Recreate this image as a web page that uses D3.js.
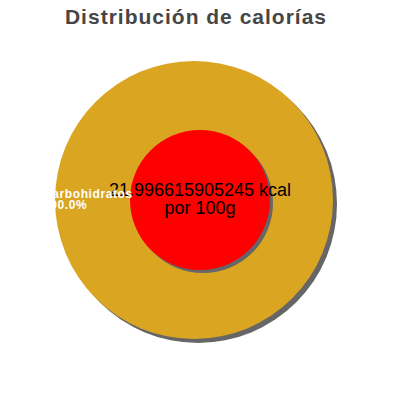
<!DOCTYPE html>
<html>
<head>
<meta charset="utf-8">
<script src="https://cdn.jsdelivr.net/npm/d3@7"></script>
<style>
  body { margin: 0; background: #fff; }
  svg { font-family: "Liberation Sans", Arial, sans-serif; }
</style>
</head>
<body>
<svg id="chart" width="400" height="400"></svg>
<script>
// data //
const categories = ["Carbohidratos"];
const percents = [100.0];
const colors = ["#DAA520"];
const kcal = "21.996615905245";
const title = "Distribución de calorías";

const width = 400;
const height = 400;
const outerR = 139;
const innerR = 70;

const svg = d3.select('#chart');

//title//
svg.append('text')
  .attr('x', 196)
  .attr('y', 24)
  .attr('text-anchor', 'middle')
  .attr('font-size', 21)
  .attr('font-weight', 'bold')
  .attr('letter-spacing', 1)
  .attr('fill', '#464646')
  .text(title);

//pie//
const pie = d3.pie().sort(null).value((d) => d);
const arc = d3.arc().innerRadius(0).outerRadius(outerR);
const slices = pie(percents);

const g = svg.append('g').attr('transform', 'translate(194,200)');

g.selectAll('path.shadow')
  .data(slices)
  .join('path')
  .attr('class', 'shadow')
  .attr('transform', 'translate(4,4)')
  .attr('d', arc)
  .attr('fill', '#666');

g.selectAll('path.slice')
  .data(slices)
  .join('path')
  .attr('class', 'slice')
  .attr('d', arc)
  .attr('fill', (d, i) => colors[i]);

//center circle//
const center = svg.append('g').attr('transform', 'translate(200,200)');
const disc = d3.arc().innerRadius(0).outerRadius(innerR).startAngle(0).endAngle(2 * Math.PI);
center.append('path').attr('d', disc()).attr('transform', 'translate(3,3)').attr('fill', '#666');
center.append('path').attr('d', disc()).attr('fill', '#ff0000');

//slice labels//
const lbl = svg.selectAll('g.lbl')
  .data(slices)
  .join('g')
  .attr('class', 'lbl')
  .attr('transform', 'translate(43,198)');
lbl.append('text')
  .attr('font-size', 12)
  .attr('font-weight', 'bold')
  .attr('letter-spacing', 0.6)
  .attr('fill', '#fff')
  .text((d, i) => categories[i]);
lbl.append('text')
  .attr('y', 11)
  .attr('font-size', 12)
  .attr('font-weight', 'bold')
  .attr('letter-spacing', 0.6)
  .attr('fill', '#fff')
  .text((d) => d.data.toFixed(1) + '%');

//center text//
center.append('text')
  .attr('y', -4)
  .attr('text-anchor', 'middle')
  .attr('font-size', 18)
  .attr('fill', '#000')
  .text(kcal + ' kcal');
center.append('text')
  .attr('y', 14)
  .attr('text-anchor', 'middle')
  .attr('font-size', 18)
  .attr('fill', '#000')
  .text('por 100g');
</script>
</body>
</html>
